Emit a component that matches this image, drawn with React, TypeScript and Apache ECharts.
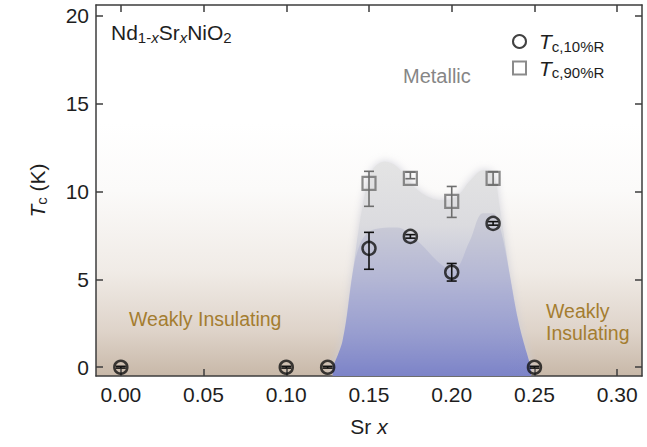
import React, { useEffect, useRef } from 'react';
import * as echarts from 'echarts';

const FONT = '"Liberation Sans", Arial, Helvetica, sans-serif';

// axis ticks
const xTicks = [0, 0.05, 0.1, 0.15, 0.2, 0.25, 0.3];
const yTicks = [0, 5, 10, 15, 20];

// Tc,10%R (circles)
const srX10 = [0, 0.1, 0.125, 0.15, 0.175, 0.2, 0.225, 0.25];
const tc10 = [0, 0, 0, 6.76, 7.44, 5.4, 8.18, 0];
const tc10Lo = [-0.05, -0.05, -0.05, 5.57, 7.34, 4.9, 8.08, -0.05];
const tc10Hi = [0.05, 0.05, 0.05, 7.67, 7.54, 5.9, 8.28, 0.05];

// Tc,90%R (squares)
const srX90 = [0.15, 0.175, 0.2, 0.225];
const tc90 = [10.45, 10.74, 9.43, 10.74];
const tc90Lo = [9.15, 10.72, 8.52, 10.36];
const tc90Hi = [11.14, 11.1, 10.28, 11.12];

// shaded domes (boundaries)
const outerDomeX = [0.128, 0.134, 0.14, 0.146, 0.152, 0.1596, 0.167, 0.179, 0.193, 0.203, 0.211, 0.219, 0.225, 0.229, 0.235, 0.241, 0.248];
const outerDomeTc = [0, 1.5, 5.3, 9.1, 11.2, 11.7, 11.4, 10.1, 9.5, 9.7, 10.6, 11.2, 11.0, 9.1, 5.3, 2.3, 0];
const innerDomeX = [0.128, 0.134, 0.14, 0.1445, 0.15, 0.1566, 0.1669, 0.179, 0.1929, 0.2008, 0.211, 0.2189, 0.2249, 0.2291, 0.235, 0.241, 0.248];
const innerDomeTc = [0, 1.5, 5.3, 7.0, 7.7, 7.9, 7.95, 7.2, 5.9, 5.5, 7.2, 8.75, 8.75, 8.0, 5.3, 2.3, 0];

const X_MIN = -0.015;
const X_MAX = 0.315;
const Y_MIN = -0.5;
const Y_MAX = 20.6;

const AXIS_COLOR = '#3c3c3c';
const TEXT_COLOR = '#1e1e1e';

function errorBarSeries(xs: number[], lo: number[], hi: number[], color: string, z: number) {
  return {
    type: 'custom',
    z,
    silent: true,
    encode: { x: 0, y: [1, 2] },
    data: xs.map((x, i) => [x, lo[i], hi[i]]),
    renderItem: (params: any, api: any) => {
      const x = api.value(0);
      const p1 = api.coord([x, api.value(1)]);
      const p2 = api.coord([x, api.value(2)]);
      const w = 5;
      const style = { stroke: color, lineWidth: 1.6 };
      return {
        type: 'group',
        children: [
          { type: 'line', shape: { x1: p1[0], y1: p1[1], x2: p2[0], y2: p2[1] }, style },
          { type: 'line', shape: { x1: p1[0] - w, y1: p1[1], x2: p1[0] + w, y2: p1[1] }, style },
          { type: 'line', shape: { x1: p2[0] - w, y1: p2[1], x2: p2[0] + w, y2: p2[1] }, style },
        ],
      };
    },
  };
}

export default function App() {
  const ref = useRef<HTMLDivElement>(null);

  useEffect(() => {
    if (!ref.current) return;
    const chart = echarts.init(ref.current, null, { renderer: 'svg' });

    const axisCommon = {
      type: 'value',
      splitLine: { show: false },
      axisLine: { show: true, onZero: false, lineStyle: { color: AXIS_COLOR, width: 1.5 } },
      axisTick: { show: true, inside: true, length: 7, lineStyle: { color: AXIS_COLOR, width: 1.5 } },
    };

    const option: any = {
      animation: false,
      backgroundColor: '#ffffff',
      grid: {
        left: 96,
        right: 5,
        top: 5,
        bottom: 71,
        show: true,
        borderWidth: 0,
        backgroundColor: new echarts.graphic.LinearGradient(
          0, 5, 0, 376,
          [
            { offset: 0, color: '#ffffff' },
            { offset: 0.32, color: '#ffffff' },
            { offset: 0.5, color: '#fbfaf9' },
            { offset: 0.72, color: '#f0ebe6' },
            { offset: 0.88, color: '#ded3c9' },
            { offset: 1, color: '#c8b8a8' },
          ],
          true
        ),
      },
      xAxis: [
        {
          ...axisCommon,
          position: 'bottom',
          min: X_MIN,
          max: X_MAX,
          axisTick: { ...axisCommon.axisTick, customValues: xTicks },
          axisLabel: {
            customValues: xTicks,
            formatter: (v: number) => v.toFixed(2),
            fontSize: 21,
            margin: 8,
            color: TEXT_COLOR,
            fontFamily: FONT,
          },
          name: '{n|Sr }{i|x}',
          nameLocation: 'middle',
          nameGap: 40,
          nameTextStyle: {
            rich: {
              n: { fontSize: 21, fontFamily: FONT, color: TEXT_COLOR },
              i: { fontSize: 21, fontFamily: FONT, color: TEXT_COLOR, fontStyle: 'italic' },
            },
          },
        },
        {
          ...axisCommon,
          position: 'top',
          min: X_MIN,
          max: X_MAX,
          axisTick: { ...axisCommon.axisTick, customValues: xTicks },
          axisLabel: { show: false },
        },
      ],
      yAxis: [
        {
          ...axisCommon,
          position: 'left',
          min: Y_MIN,
          max: Y_MAX,
          axisTick: { ...axisCommon.axisTick, customValues: yTicks },
          axisLabel: {
            customValues: yTicks,
            fontSize: 21,
            margin: 7,
            color: TEXT_COLOR,
            fontFamily: FONT,
          },
          name: '{i|T}{s|c}{n| (K)}',
          nameLocation: 'middle',
          nameGap: 47,
          nameTextStyle: {
            rich: {
              n: { fontSize: 21, fontFamily: FONT, color: TEXT_COLOR },
              i: { fontSize: 21, fontFamily: FONT, color: TEXT_COLOR, fontStyle: 'italic' },
              s: { fontSize: 15, fontFamily: FONT, color: TEXT_COLOR, padding: [9, 0, 0, 0] },
            },
          },
        },
        {
          ...axisCommon,
          position: 'right',
          min: Y_MIN,
          max: Y_MAX,
          axisTick: { ...axisCommon.axisTick, customValues: yTicks },
          axisLabel: { show: false },
        },
      ],
      legend: {
        orient: 'vertical',
        left: 512,
        top: 31,
        padding: 0,
        itemWidth: 13,
        itemHeight: 13,
        itemGap: 4,
        selectedMode: false,
        data: ['Tc,10%R', 'Tc,90%R'],
        formatter: (name: string) => `{sp|}{i|T}{s|${name.slice(1)}}`,
        textStyle: {
          rich: {
            sp: { width: 8 },
            i: { fontSize: 21, fontFamily: FONT, color: TEXT_COLOR, fontStyle: 'italic' },
            s: { fontSize: 15, fontFamily: FONT, color: TEXT_COLOR, padding: [9, 0, 0, 0] },
          },
        },
      },
      graphic: [
        {
          type: 'text',
          left: 111,
          top: 22,
          style: {
            text: '{n|Nd}{s|1-}{si|x}{n|Sr}{si|x}{n|NiO}{s|2}',
            rich: {
              n: { fontSize: 21, fontFamily: FONT, fill: TEXT_COLOR },
              s: { fontSize: 15, fontFamily: FONT, fill: TEXT_COLOR, padding: [9, 0, 0, 0] },
              si: { fontSize: 15, fontFamily: FONT, fill: TEXT_COLOR, fontStyle: 'italic', padding: [9, 0, 0, 0] },
            },
          },
        },
        {
          type: 'text',
          left: 403,
          top: 66,
          style: { text: 'Metallic', fontSize: 20, fontFamily: FONT, fill: '#868686' },
        },
        {
          type: 'text',
          left: 129,
          top: 309,
          style: { text: 'Weakly Insulating', fontSize: 19.5, fontFamily: FONT, fill: '#a47d30' },
        },
        {
          type: 'text',
          left: 370,
          top: 312,
          style: { text: 'Superconductor', fontSize: 19.5, fontFamily: FONT, fill: '#7a38e6' },
        },
        {
          type: 'text',
          left: 546,
          top: 300,
          style: {
            text: 'Weakly\nInsulating',
            fontSize: 19.5,
            lineHeight: 22,
            align: 'center',
            fontFamily: FONT,
            fill: '#a47d30',
          },
        },
      ],
      series: [
        {
          type: 'line',
          name: 'outer',
          z: 1,
          silent: true,
          smooth: 0.35,
          symbol: 'none',
          lineStyle: { width: 0 },
          data: outerDomeX.map((x, i) => [x, outerDomeTc[i]]),
          areaStyle: {
            origin: 'start',
            opacity: 1,
            shadowBlur: 8,
            shadowColor: 'rgba(205,205,215,0.9)',
            color: new echarts.graphic.LinearGradient(0, 0, 0, 1, [
              { offset: 0, color: '#e4e4e4' },
              { offset: 0.3, color: '#dbdbdf' },
              { offset: 0.55, color: '#c0c2d8' },
              { offset: 0.8, color: '#9ca1d0' },
              { offset: 1, color: '#7c83c8' },
            ]),
          },
        },
        {
          type: 'line',
          name: 'inner',
          z: 2,
          silent: true,
          smooth: 0.35,
          symbol: 'none',
          lineStyle: { width: 0 },
          data: innerDomeX.map((x, i) => [x, innerDomeTc[i]]),
          areaStyle: {
            origin: 'start',
            opacity: 1,
            color: new echarts.graphic.LinearGradient(0, 0, 0, 1, [
              { offset: 0, color: 'rgba(170,172,195,0.35)' },
              { offset: 0.5, color: 'rgba(140,146,205,0.25)' },
              { offset: 1, color: 'rgba(120,128,200,0.05)' },
            ]),
          },
        },
        errorBarSeries(srX90, tc90Lo, tc90Hi, '#6e6e6e', 3),
        errorBarSeries(srX10, tc10Lo, tc10Hi, '#111111', 3),
        {
          type: 'scatter',
          name: 'Tc,10%R',
          z: 4,
          symbol: 'circle',
          symbolSize: 13,
          itemStyle: { color: 'rgba(0,0,0,0)', borderColor: '#111111', borderWidth: 2.5 },
          data: srX10.map((x, i) => [x, tc10[i]]),
        },
        {
          type: 'scatter',
          name: 'Tc,90%R',
          z: 4,
          symbol: 'rect',
          symbolSize: 13,
          itemStyle: { color: 'rgba(0,0,0,0)', borderColor: '#6e6e6e', borderWidth: 2.2 },
          data: srX90.map((x, i) => [x, tc90[i]]),
        },
      ],
    };

    chart.setOption(option);
    return () => chart.dispose();
  }, []);

  return <div ref={ref} style={{ position: 'absolute', left: 0, top: 0, width: 647, height: 447 }} />;
}
